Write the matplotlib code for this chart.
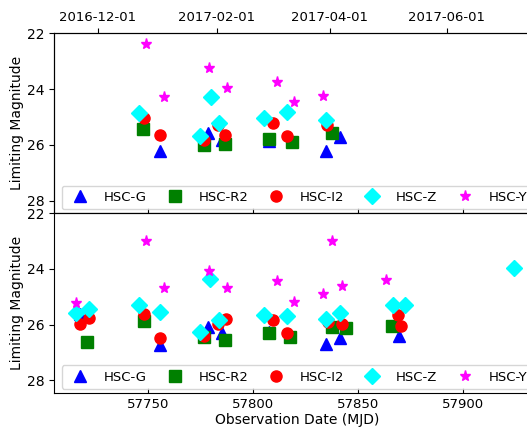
import matplotlib
matplotlib.use("Agg")
import matplotlib.pyplot as plt
import matplotlib.dates as mdates
from datetime import datetime, timedelta

# ---------------- data (top panel) ----------------
top_g_mjd = [57755.6, 57778.6, 57784.9, 57807.3, 57834.5, 57841.3]
top_g_mag = [26.22, 25.59, 25.81, 25.87, 26.22, 25.73]
top_r_mjd = [57747.6, 57776.5, 57786.5, 57807.3, 57818.4, 57837.3]
top_r_mag = [25.44, 25.99, 25.95, 25.77, 25.88, 25.58]
top_i_mjd = [57747.8, 57755.6, 57776.7, 57783.3, 57786.5, 57809.4, 57816.2, 57835.2]
top_i_mag = [25.02, 25.63, 25.84, 25.29, 25.63, 25.21, 25.68, 25.29]
top_z_mjd = [57745.6, 57779.7, 57774.5, 57783.7, 57805.2, 57816.2, 57834.5]
top_z_mag = [24.84, 24.29, 25.68, 25.23, 25.03, 24.81, 25.11]
top_y_mjd = [57748.8, 57757.6, 57778.9, 57787.5, 57811.4, 57819.4, 57833.3]
top_y_mag = [22.40, 24.28, 23.23, 23.97, 23.74, 24.46, 24.25]

# ---------------- data (bottom panel) ----------------
bot_g_mjd = [57717.6, 57755.6, 57778.6, 57785.2, 57807.3, 57834.5, 57841.3, 57869.3]
bot_g_mag = [25.62, 26.73, 26.09, 26.31, 26.27, 26.70, 26.49, 26.41]
bot_r_mjd = [57720.6, 57747.8, 57776.5, 57786.5, 57807.5, 57817.5, 57837.3, 57844.1, 57866.2]
bot_r_mag = [26.61, 25.86, 26.43, 26.56, 26.29, 26.45, 26.08, 26.11, 26.06]
bot_i_mjd = [57717.6, 57721.8, 57747.8, 57755.6, 57776.5, 57783.3, 57786.8, 57809.5,
             57816.2, 57835.4, 57842.2, 57869.1, 57870.2]
bot_i_mag = [25.97, 25.78, 25.62, 26.47, 26.41, 25.99, 25.80, 25.82,
             26.30, 25.89, 25.97, 25.66, 26.06]
bot_z_mjd = [57715.6, 57721.8, 57745.6, 57755.6, 57774.6, 57779.5, 57783.7, 57805.2,
             57816.2, 57834.5, 57841.4, 57866.4, 57872.2, 57924.3]
bot_z_mag = [25.60, 25.45, 25.28, 25.56, 26.27, 24.35, 25.83, 25.65,
             25.69, 25.80, 25.57, 25.29, 25.28, 23.95]
bot_y_mjd = [57715.6, 57748.8, 57757.6, 57778.8, 57787.5, 57811.3, 57819.4, 57833.3,
             57837.5, 57842.2, 57863.2]
bot_y_mag = [25.21, 22.98, 24.67, 24.07, 24.68, 24.42, 25.18, 24.90,
             22.98, 24.61, 24.41]

bands = ["HSC-G", "HSC-R2", "HSC-I2", "HSC-Z", "HSC-Y"]
top_date_ticks = ["2016-12-01", "2017-02-01", "2017-04-01", "2017-06-01"]
mjd_ticks = [57750, 57800, 57850, 57900]
mag_ticks = [22, 24, 26, 28]

styles = {
    "HSC-G": dict(marker="^", color="blue", ms=8),
    "HSC-R2": dict(marker="s", color="green", ms=8),
    "HSC-I2": dict(marker="o", color="red", ms=8),
    "HSC-Z": dict(marker="D", color="cyan", ms=8),
    "HSC-Y": dict(marker="*", color="magenta", ms=8),
}

W, H = 527, 429
fig = plt.figure(figsize=(W / 100, H / 100), dpi=100)
left = 54 / W
width = (540 - 54) / W
ax1 = fig.add_axes([left, (H - 213.3) / H, width, 180 / H])
ax2 = fig.add_axes([left, (H - 392.8) / H, width, 179.5 / H])

panels = [
    (ax1, [(top_g_mjd, top_g_mag), (top_r_mjd, top_r_mag), (top_i_mjd, top_i_mag),
           (top_z_mjd, top_z_mag), (top_y_mjd, top_y_mag)]),
    (ax2, [(bot_g_mjd, bot_g_mag), (bot_r_mjd, bot_r_mag), (bot_i_mjd, bot_i_mag),
           (bot_z_mjd, bot_z_mag), (bot_y_mjd, bot_y_mag)]),
]

xlo, xhi = 57705.1, 57936.5
for ax, series in panels:
    for band, (xs, ys) in zip(bands, series):
        st = styles[band]
        ax.plot(xs, ys, linestyle="none", marker=st["marker"], color=st["color"],
                ms=st["ms"], label=band)
    ax.set_xlim(xlo, xhi)
    ax.set_ylim(28.45, 22)
    ax.set_yticks(mag_ticks)
    ax.set_xticks(mjd_ticks)
    ax.set_ylabel("Limiting Magnitude", fontsize=10, labelpad=2)
    ax.tick_params(axis="x", direction="in", labelsize=9.5)
    ax.tick_params(axis="y", direction="out", labelsize=10)
    ax.spines["right"].set_visible(False)
    ax.legend(loc="lower center", ncol=5, fontsize=9.5, numpoints=1,
              handletextpad=0.8, columnspacing=1.1, borderaxespad=0.3)

ax1.tick_params(axis="x", labelbottom=False)
ax2.set_xlabel("Observation Date (MJD)", fontsize=10, labelpad=2)

# top date axis
axt = ax1.twiny()
d0 = datetime(2016, 12, 1)
axt.set_xlim(mdates.date2num(d0 - timedelta(days=22.96)),
             mdates.date2num(d0 + timedelta(days=230.7)))
axt.set_xticks([mdates.date2num(datetime.strptime(s, "%Y-%m-%d")) for s in top_date_ticks])
axt.set_xticklabels(top_date_ticks)
axt.tick_params(axis="x", direction="out", labelsize=9.5)
axt.spines["right"].set_visible(False)

fig.savefig("out.png", dpi=100)
